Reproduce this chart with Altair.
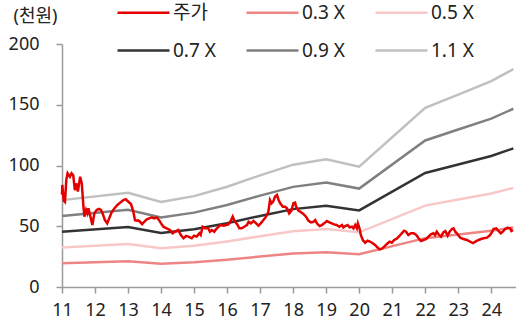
import altair as alt
import pandas as pd

# ---- band (PBR multiple) lines, read at kink points ----
band_years = [2011.0, 2013.0, 2014.0, 2015.0, 2016.0, 2017.0, 2018.0, 2019.0,
              2020.0, 2022.0, 2023.0, 2024.0, 2024.67]
band_03 = [19.5, 21.2, 19.1, 20.4, 22.5, 25.1, 27.5, 28.7, 27.0, 40.2, 43.2, 46.2, 48.9]
band_05 = [32.5, 35.3, 31.8, 34.0, 37.5, 41.8, 45.8, 47.8, 45.0, 67.0, 72.0, 77.0, 81.5]
band_07 = [45.5, 49.4, 44.5, 47.6, 52.5, 58.5, 64.1, 66.9, 63.0, 93.8, 100.8, 107.8, 114.1]
band_09 = [58.5, 63.5, 57.2, 61.2, 67.5, 75.2, 82.4, 86.0, 81.0, 120.6, 129.6, 138.6, 146.7]
band_11 = [71.5, 77.6, 69.9, 74.8, 82.5, 91.9, 100.7, 105.1, 99.0, 147.4, 158.4, 169.4, 179.3]

# ---- share price (천원) ----
price_years = [
    2011.00, 2011.01, 2011.05, 2011.09, 2011.13, 2011.17, 2011.24, 2011.29, 2011.34, 2011.39,
    2011.45, 2011.48, 2011.55, 2011.60, 2011.65, 2011.68, 2011.73, 2011.77, 2011.80, 2011.85,
    2011.92, 2011.98, 2012.05, 2012.12, 2012.18, 2012.23, 2012.30, 2012.37, 2012.43, 2012.50,
    2012.59, 2012.68, 2012.76, 2012.86, 2012.93, 2013.01, 2013.09, 2013.16, 2013.21, 2013.26,
    2013.31, 2013.36, 2013.43, 2013.49, 2013.57, 2013.64, 2013.72, 2013.79, 2013.87, 2013.94,
    2014.00, 2014.07, 2014.17, 2014.27, 2014.35, 2014.42, 2014.52, 2014.60, 2014.68, 2014.76,
    2014.83, 2014.93, 2015.00, 2015.08, 2015.16, 2015.20, 2015.26, 2015.33, 2015.43, 2015.48,
    2015.54, 2015.61, 2015.67, 2015.74, 2015.81, 2015.89, 2015.97, 2016.04, 2016.11, 2016.17,
    2016.24, 2016.31, 2016.37, 2016.44, 2016.52, 2016.60, 2016.65, 2016.72, 2016.80, 2016.88,
    2016.95, 2017.02, 2017.10, 2017.18, 2017.25, 2017.30, 2017.35, 2017.40, 2017.45, 2017.51,
    2017.56, 2017.61, 2017.69, 2017.76, 2017.81, 2017.88, 2017.94, 2018.01, 2018.06, 2018.09,
    2018.16, 2018.23, 2018.31, 2018.39, 2018.46, 2018.54, 2018.62, 2018.67, 2018.72, 2018.80,
    2018.87, 2018.94, 2019.02, 2019.10, 2019.17, 2019.24, 2019.32, 2019.40, 2019.48, 2019.52,
    2019.58, 2019.65, 2019.71, 2019.78, 2019.83, 2019.88, 2019.93, 2019.96, 2020.01, 2020.05,
    2020.11, 2020.18, 2020.25, 2020.33, 2020.41, 2020.48, 2020.55, 2020.62, 2020.69, 2020.76,
    2020.84, 2020.92, 2020.99, 2021.06, 2021.14, 2021.22, 2021.29, 2021.36, 2021.42, 2021.49,
    2021.57, 2021.65, 2021.73, 2021.80, 2021.87, 2021.95, 2022.03, 2022.10, 2022.17, 2022.25,
    2022.30, 2022.35, 2022.42, 2022.48, 2022.55, 2022.61, 2022.68, 2022.74, 2022.81, 2022.86,
    2022.91, 2022.96, 2023.06, 2023.16, 2023.26, 2023.36, 2023.45, 2023.52, 2023.62, 2023.69,
    2023.77, 2023.87, 2023.95, 2024.02, 2024.07, 2024.15, 2024.22, 2024.29, 2024.35, 2024.42,
    2024.49, 2024.57, 2024.61, 2024.66,
]
price_vals = [
    76.0, 84.0, 71.0, 70.0, 88.0, 93.6, 90.8, 93.6, 92.0, 79.8,
    85.3, 78.5, 90.8, 85.0, 66.0, 57.9, 63.4, 60.6, 64.8, 59.3,
    51.0, 60.6, 63.4, 64.2, 63.4, 60.6, 55.1, 52.4, 56.5, 61.2,
    64.8, 67.5, 69.4, 71.6, 72.2, 70.2, 68.3, 62.0, 55.0, 54.6,
    54.9, 53.7, 51.8, 53.7, 55.7, 56.5, 57.3, 56.5, 57.3, 55.0,
    52.4, 49.6, 48.3, 46.9, 44.2, 45.5, 46.9, 42.8, 40.1, 42.0,
    41.5, 40.1, 42.2, 41.5, 44.2, 42.8, 49.6, 48.3, 48.3, 45.5,
    46.9, 45.5, 47.6, 49.6, 51.0, 50.5, 51.0, 51.5, 54.3, 57.9,
    53.7, 51.5, 48.3, 48.3, 49.6, 51.0, 53.7, 52.4, 54.3, 52.4,
    50.5, 52.4, 55.1, 57.9, 62.0, 71.6, 68.9, 70.5, 74.3, 75.7,
    71.6, 68.9, 66.1, 66.1, 64.8, 60.6, 62.5, 68.9, 69.4, 66.1,
    62.8, 61.7, 60.1, 57.9, 54.6, 53.2, 53.7, 55.0, 52.4, 50.2,
    51.0, 52.4, 54.3, 53.2, 52.4, 51.5, 51.0, 49.6, 51.0, 49.1,
    50.2, 51.0, 49.1, 49.6, 48.3, 51.0, 48.3, 52.4, 48.3, 42.8,
    38.7, 36.5, 38.1, 37.4, 36.0, 34.6, 32.7, 31.0, 31.5, 33.2,
    35.4, 37.3, 36.5, 38.7, 39.8, 42.0, 44.2, 46.3, 45.5, 42.8,
    44.2, 44.2, 42.8, 40.1, 37.9, 38.7, 39.5, 41.4, 43.3, 44.2,
    42.8, 45.5, 42.8, 41.4, 45.0, 46.1, 42.3, 45.5, 47.7, 48.3,
    45.5, 44.2, 40.6, 39.5, 38.7, 37.3, 36.2, 37.3, 38.7, 39.5,
    40.1, 40.6, 42.3, 45.0, 47.7, 48.3, 46.1, 44.2, 45.5, 47.7,
    48.8, 48.3, 46.1, 46.9,
]

series_names = ["주가", "0.3 X", "0.5 X", "0.7 X", "0.9 X", "1.1 X"]
series_colors = ["#E50000", "#EE8585", "#F8C8C8", "#333333", "#808080", "#C0C0C0"]
x_ticks = list(range(2011, 2025))
y_ticks = [0, 50, 100, 150, 200]

band_rows = []
for name, vals in zip(series_names[1:], [band_03, band_05, band_07, band_09, band_11]):
    for yr, v in zip(band_years, vals):
        band_rows.append({"year": yr, "value": v, "series": name})
band_df = pd.DataFrame(band_rows)
price_df = pd.DataFrame({"year": price_years, "value": price_vals, "series": "주가"})

FONT = "Noto Sans, Noto Sans CJK KR"

x_enc = alt.X(
    "year:Q",
    scale=alt.Scale(domain=[2011, 2024.75], nice=False, zero=False),
    axis=alt.Axis(
        values=x_ticks, title=None, grid=False,
        labelExpr="substring(toString(datum.value), 2, 4)",
        tickSize=6, labelPadding=8, labelFontSize=18, labelFont=FONT,
        labelColor="#222222", domainColor="#9A9A9A", tickColor="#9A9A9A",
        domainWidth=1.5, tickWidth=1.5, labelFlush=False, labelOverlap=False,
    ),
)
y_enc = alt.Y(
    "value:Q",
    scale=alt.Scale(domain=[0, 200], nice=False),
    axis=alt.Axis(
        values=y_ticks, title="(천원)", grid=False,
        tickSize=6, labelPadding=17, labelFontSize=18, labelFont=FONT,
        labelColor="#222222", domainColor="#9A9A9A", tickColor="#9A9A9A",
        domainWidth=1.5, tickWidth=1.5,
        titleAngle=0, titleAlign="left", titleBaseline="middle",
        titleX=-49, titleY=-28, titleFont=FONT, titleFontSize=18,
        titleFontWeight="normal", titleColor="#222222",
    ),
)
color_enc = alt.Color(
    "series:N",
    scale=alt.Scale(domain=series_names, range=series_colors),
    legend=alt.Legend(
        title=None, orient="none", legendX=54, legendY=-59, columns=3,
        direction="horizontal",
        symbolType="stroke", symbolSize=2704, symbolStrokeWidth=2.5,
        labelFont=FONT, labelFontSize=19, labelColor="#222222",
        labelOffset=2, columnPadding=25, rowPadding=-2, gridAlign="all",
        padding=0,
    ),
)

bands = alt.Chart(band_df).mark_line(strokeWidth=2.5).encode(
    x=x_enc, y=y_enc, color=color_enc, detail="series:N"
)
price = alt.Chart(price_df).mark_line(strokeWidth=2.5).encode(
    x=x_enc, y=y_enc, color=color_enc
)

chart = alt.layer(bands, price).properties(
    width=454, height=243,
    padding={"left": 62, "top": 44, "right": 0, "bottom": 36},
    autosize=alt.AutoSizeParams(type="none"),
).configure_view(stroke=None)

chart.save("out.html", embed_options={"renderer": "svg", "actions": False})
